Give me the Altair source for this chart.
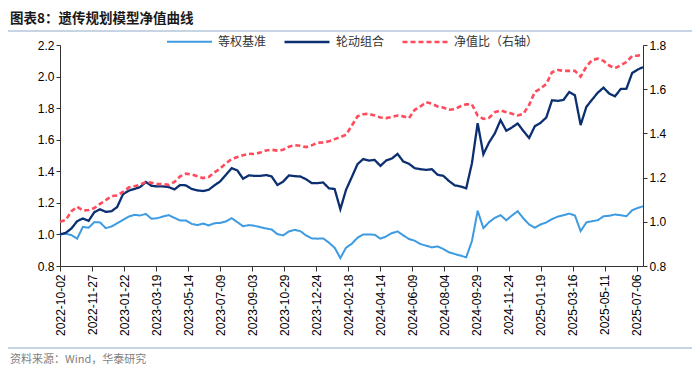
import altair as alt
import pandas as pd

# ---------------- data ----------------
START = "2022-10-02"
STEP_DAYS = 10
LAST_DATE = "2025-07-17"

SERIES_NAMES = ["等权基准", "轮动组合", "净值比（右轴）"]

TICK_LABELS = [
    "2022-10-02", "2022-11-27", "2023-01-22", "2023-03-19", "2023-05-14",
    "2023-07-09", "2023-09-03", "2023-10-29", "2023-12-24", "2024-02-18",
    "2024-04-14", "2024-06-09", "2024-08-04", "2024-09-29", "2024-11-24",
    "2025-01-19", "2025-03-16", "2025-05-11", "2025-07-06",
]

EQUAL_WEIGHT = [
    1.000, 1.004, 0.996, 0.973, 1.048, 1.042, 1.078, 1.076, 1.040, 1.050,
    1.071, 1.092, 1.113, 1.124, 1.120, 1.130, 1.099, 1.103, 1.113, 1.122,
    1.105, 1.088, 1.088, 1.067, 1.059, 1.069, 1.057, 1.071, 1.073, 1.082,
    1.103, 1.078, 1.052, 1.059, 1.055, 1.046, 1.038, 1.031, 1.002, 0.994,
    1.019, 1.029, 1.021, 0.994, 0.975, 0.973, 0.975, 0.948, 0.916, 0.850,
    0.916, 0.941, 0.979, 1.000, 1.000, 0.998, 0.973, 0.987, 1.008, 1.019,
    0.994, 0.971, 0.960, 0.939, 0.929, 0.918, 0.924, 0.908, 0.887, 0.876,
    0.866, 0.855, 0.958, 1.150, 1.040, 1.078, 1.105, 1.122, 1.090, 1.120,
    1.147, 1.101, 1.063, 1.042, 1.063, 1.076, 1.097, 1.113, 1.122, 1.132,
    1.120, 1.021, 1.076, 1.084, 1.090, 1.115, 1.118, 1.126, 1.122, 1.115,
    1.153, 1.168, 1.178,
]

ROTATION = [
    1.000, 1.010, 1.038, 1.084, 1.101, 1.086, 1.141, 1.159, 1.143, 1.147,
    1.174, 1.254, 1.277, 1.288, 1.300, 1.332, 1.308, 1.304, 1.304, 1.300,
    1.285, 1.313, 1.311, 1.288, 1.279, 1.275, 1.283, 1.311, 1.336, 1.378,
    1.420, 1.405, 1.353, 1.374, 1.371, 1.371, 1.376, 1.367, 1.313, 1.334,
    1.374, 1.369, 1.367, 1.350, 1.325, 1.325, 1.329, 1.292, 1.288, 1.160,
    1.283, 1.363, 1.445, 1.478, 1.468, 1.472, 1.434, 1.468, 1.481, 1.510,
    1.462, 1.447, 1.420, 1.413, 1.409, 1.413, 1.378, 1.371, 1.338, 1.311,
    1.304, 1.292, 1.451, 1.705, 1.508, 1.583, 1.640, 1.724, 1.657, 1.678,
    1.703, 1.655, 1.611, 1.686, 1.707, 1.741, 1.850, 1.846, 1.852, 1.902,
    1.881, 1.693, 1.808, 1.854, 1.898, 1.930, 1.892, 1.875, 1.921, 1.923,
    2.022, 2.045, 2.060,
]

RATIO = [
    1.000, 1.008, 1.048, 1.068, 1.051, 1.053, 1.062, 1.081, 1.098, 1.116,
    1.119, 1.135, 1.155, 1.161, 1.168, 1.180, 1.177, 1.171, 1.170, 1.167,
    1.180, 1.206, 1.218, 1.214, 1.206, 1.198, 1.203, 1.224, 1.241, 1.265,
    1.284, 1.293, 1.301, 1.308, 1.307, 1.313, 1.323, 1.326, 1.322, 1.326,
    1.340, 1.347, 1.344, 1.338, 1.346, 1.358, 1.359, 1.364, 1.374, 1.383,
    1.394, 1.435, 1.477, 1.487, 1.489, 1.481, 1.472, 1.469, 1.474, 1.481,
    1.477, 1.469, 1.507, 1.522, 1.541, 1.534, 1.522, 1.517, 1.507, 1.510,
    1.523, 1.532, 1.531, 1.481, 1.466, 1.471, 1.496, 1.504, 1.496, 1.489,
    1.481, 1.489, 1.529, 1.588, 1.603, 1.624, 1.677, 1.687, 1.683, 1.683,
    1.683, 1.657, 1.702, 1.732, 1.738, 1.728, 1.707, 1.695, 1.708, 1.723,
    1.750, 1.752, 1.755,
]

LEFT_TICKS = [0.8, 1.0, 1.2, 1.4, 1.6, 1.8, 2.0, 2.2]
RIGHT_TICKS = [0.8, 1.0, 1.2, 1.4, 1.6, 1.8]

TITLE = "图表8：遗传规划模型净值曲线"
SOURCE = "资料来源：Wind，华泰研究"

COLORS = ["#3d9be2", "#0b2f70", "#ff4b5c"]

# ---------------- build tables ----------------
dates = list(
    pd.date_range(START, periods=len(EQUAL_WEIGHT) - 1, freq=f"{STEP_DAYS}D").strftime("%Y-%m-%d")
) + [LAST_DATE]

left_df = pd.concat([
    pd.DataFrame({"date": dates, "series": SERIES_NAMES[0], "value": EQUAL_WEIGHT}),
    pd.DataFrame({"date": dates, "series": SERIES_NAMES[1], "value": ROTATION}),
])
right_df = pd.DataFrame({"date": dates, "series": SERIES_NAMES[2], "value": RATIO})


def dt(s):
    y, m, d = (int(p) for p in s.split("-"))
    return alt.DateTime(year=y, month=m, date=d, utc=True)


x_enc = alt.X(
    "date:T",
    scale=alt.Scale(type="utc", domain=[dt(START), dt(LAST_DATE)]),
    axis=alt.Axis(
        values=[dt(s) for s in TICK_LABELS],
        labelExpr="utcFormat(datum.value, '%Y-%m-%d')",
        labelAngle=270,
        labelOverlap=False,
        labelFlush=False,
        labelPadding=3,
        tickSize=5,
        title=None,
    ),
)

color_enc = alt.Color(
    "series:N",
    scale=alt.Scale(domain=SERIES_NAMES, range=COLORS),
    legend=alt.Legend(title=None),
)
dash_enc = alt.StrokeDash(
    "series:N",
    scale=alt.Scale(domain=SERIES_NAMES, range=[[1, 0], [1, 0], [5, 3]]),
    legend=alt.Legend(title=None),
)
width_enc = alt.StrokeWidth(
    "series:N",
    scale=alt.Scale(domain=SERIES_NAMES, range=[2.0, 2.6, 2.0]),
    legend=None,
)

left = alt.Chart(left_df).mark_line(interpolate="linear").encode(
    x=x_enc,
    y=alt.Y(
        "value:Q",
        scale=alt.Scale(domain=[0.8, 2.2], nice=False, zero=False),
        axis=alt.Axis(values=LEFT_TICKS, format=".1f", orient="left", title=None),
    ),
    color=color_enc,
    strokeDash=dash_enc,
    strokeWidth=width_enc,
)

right = alt.Chart(right_df).mark_line(interpolate="linear").encode(
    x=x_enc,
    y=alt.Y(
        "value:Q",
        scale=alt.Scale(domain=[0.8, 1.8], nice=False, zero=False),
        axis=alt.Axis(values=RIGHT_TICKS, format=".1f", orient="right", title=None),
    ),
    color=color_enc,
    strokeDash=dash_enc,
    strokeWidth=width_enc,
)

one = pd.DataFrame({"k": [0]})

title_txt = alt.Chart(one).mark_text(
    align="left", baseline="middle", fontSize=13.5, fontWeight="bold",
    font="Noto Sans CJK SC", color="#1a1a1a",
).encode(x=alt.value(-50), y=alt.value(-26), text=alt.value(TITLE))

top_rule = alt.Chart(one).mark_rule(color="#b3c6da", strokeWidth=1.5).encode(
    x=alt.value(-52), x2=alt.value(632), y=alt.value(-14)
)
bottom_rule = alt.Chart(one).mark_rule(color="#b3c6da", strokeWidth=1.5).encode(
    x=alt.value(-52), x2=alt.value(632), y=alt.value(303)
)
source_txt = alt.Chart(one).mark_text(
    align="left", baseline="middle", fontSize=11,
    font="Noto Sans CJK SC", color="#7f7f7f",
).encode(x=alt.value(-50), y=alt.value(315), text=alt.value(SOURCE))

chart = alt.layer(
    left, right, title_txt, top_rule, bottom_rule, source_txt
).resolve_scale(
    y="independent"
).properties(
    width=583,
    height=221,
    autosize=alt.AutoSizeParams(type="none"),
    padding={"left": 52, "top": 37, "right": 49, "bottom": 100},
).configure_view(
    stroke=None
).configure_axis(
    labelFont="Liberation Sans",
    labelFontSize=12,
    labelColor="#000000",
    domainColor="#333333",
    tickColor="#333333",
    tickSize=4,
    grid=False,
).configure_legend(
    orient="none",
    legendX=106,
    legendY=-27,
    direction="horizontal",
    symbolType="stroke",
    symbolSize=2025,
    symbolStrokeWidth=2.5,
    labelFont="Noto Sans CJK SC",
    labelFontSize=12,
    labelColor="#333333",
    labelOffset=5,
    columnPadding=12,
)

chart.save("out.html", embed_options={"renderer": "svg", "actions": False})
